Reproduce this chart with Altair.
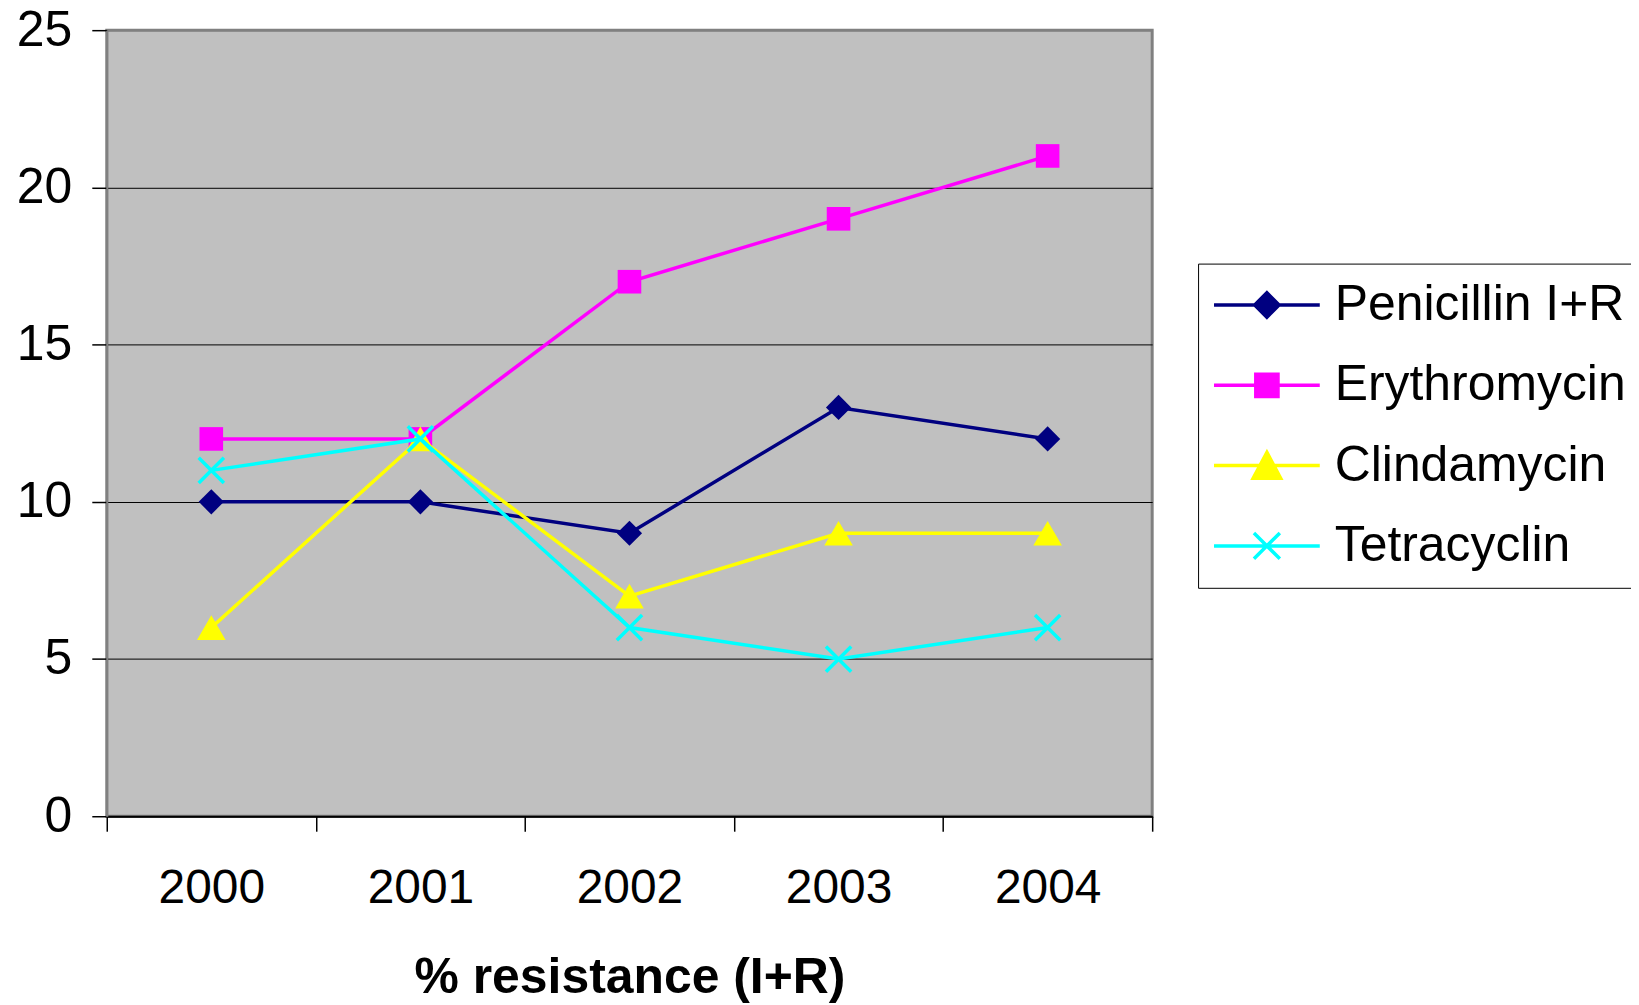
import altair as alt
import pandas as pd

years = ["2000", "2001", "2002", "2003", "2004"]
series = ["Penicillin I+R", "Erythromycin", "Clindamycin", "Tetracyclin"]
penicillin = [10, 10, 9, 13, 12]
erythromycin = [12, 12, 17, 19, 21]
clindamycin = [6, 12, 7, 9, 9]
tetracyclin = [11, 12, 6, 5, 6]
colors = ["#000080", "#FF00FF", "#FFFF00", "#00FFFF"]
y_ticks = [0, 5, 10, 15, 20, 25]
x_title = "% resistance (I+R)"

values = [penicillin, erythromycin, clindamycin, tetracyclin]
rows = []
for s, vals in zip(series, values):
    for yr, v in zip(years, vals):
        rows.append({"year": yr, "value": v, "series": s})
df = pd.DataFrame(rows)

FONT = "Liberation Sans"

x_enc = alt.X(
    "year:O",
    scale=alt.Scale(type="band", domain=years, paddingInner=0, paddingOuter=0),
    axis=alt.Axis(
        title=x_title,
        tickBand="extent",
        tickSize=15,
        tickColor="black",
        tickWidth=1.5,
        domainColor="black",
        domainWidth=2,
        labelFont=FONT,
        labelFontSize=48,
        labelColor="black",
        labelPadding=33,
        labelAngle=0,
        titleFont=FONT,
        titleFontSize=50,
        titleFontWeight="bold",
        titleColor="black",
        titleY=177,
        titleBaseline="alphabetic",
        grid=False,
    ),
)
y_enc = alt.Y(
    "value:Q",
    scale=alt.Scale(domain=[0, 25], nice=False, zero=True),
    axis=alt.Axis(
        title=None,
        values=y_ticks,
        tickSize=15,
        tickColor="black",
        tickWidth=1.5,
        domainColor="#808080",
        domainWidth=2,
        labelFont=FONT,
        labelFontSize=50,
        labelColor="black",
        labelPadding=20,
        grid=True,
        gridColor={"condition": {"test": "datum.value == 25", "value": "#808080"}, "value": "black"},
        gridWidth=1,
    ),
)

XPATH = "M-1,-1L1,1M-1,1L1,-1"
marker_specs = [
    dict(shape="diamond", filled=True, size=640, strokeWidth=0),
    dict(shape="square", filled=True, size=560, strokeWidth=0),
    dict(shape="triangle-up", filled=True, size=820, strokeWidth=0),
    dict(shape=XPATH, filled=False, size=640, strokeWidth=3.5),
]

layers = []
for s, col, ms in zip(series, colors, marker_specs):
    sub = alt.Chart(df).transform_filter(alt.datum.series == s)
    layers.append(sub.mark_line(color=col, strokeWidth=3.5).encode(x=x_enc, y=y_enc))
    layers.append(
        sub.mark_point(color=col, opacity=1, **ms).encode(x=x_enc, y=y_enc)
    )

legend_paths = [
    "M-1,0L1,0M-0.23,0L0,-0.23L0.23,0L0,0.23Z",
    "M-1,0L1,0M-0.21,-0.21L0.21,-0.21L0.21,0.21L-0.21,0.21Z",
    "M-1,0L1,0M0,-0.25L0.26,0.24L-0.26,0.24Z",
    "M-1,0L1,0M-0.245,-0.245L0.245,0.245M-0.245,0.245L0.245,-0.245",
]

legend = alt.Legend(
    title=None,
    orient="none",
    legendX=1094,
    legendY=234,
    padding=14,
    clipHeight=55,
    rowPadding=25.5,
    labelFont=FONT,
    labelFontSize=50,
    labelColor="black",
    labelLimit=1000,
    labelOffset=13,
    symbolSize=11236,
    symbolStrokeWidth=3.5,
    symbolOpacity=1,
    strokeColor="black",
    fillColor="white",
)

legend_layer = (
    alt.Chart(df)
    .transform_filter("false")
    .mark_point(filled=True, opacity=1)
    .encode(
        x=x_enc,
        y=y_enc,
        fill=alt.Fill("series:N", scale=alt.Scale(domain=series, range=colors), legend=legend),
        stroke=alt.Stroke("series:N", scale=alt.Scale(domain=series, range=colors), legend=legend),
        shape=alt.Shape("series:N", scale=alt.Scale(domain=series, range=legend_paths), legend=legend),
    )
)

chart = (
    alt.layer(*layers, legend_layer)
    .properties(
        width=1048,
        height=788,
        autosize=alt.AutoSizeParams(type="none"),
        padding={"left": 99, "top": 21, "right": 480, "bottom": 188},
        background="white",
    )
    .configure_view(stroke="#808080", strokeWidth=3, fill="#C0C0C0")
)

chart.save("out.html", embed_options={"renderer": "svg", "actions": False})
